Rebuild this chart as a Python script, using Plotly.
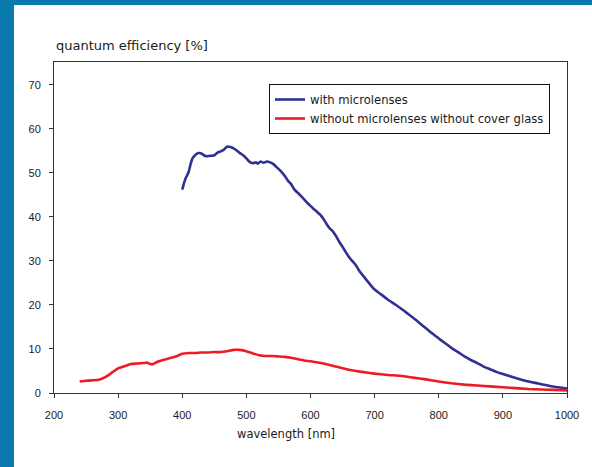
import plotly.graph_objects as go

# ---- data ----
wl_ml = [400, 403, 406, 410, 413, 416, 420, 425, 430, 435, 440, 445, 450, 455, 460, 465, 470, 475, 480,
         485, 490, 495, 500, 505, 510, 515, 518, 522, 527, 532, 537, 542, 548, 555, 560, 565, 570, 575,
         580, 585, 590, 595, 600, 605, 610, 615, 620, 625, 630, 635, 640, 645, 650, 655, 660, 665, 670,
         675, 680, 685, 690, 695, 700, 710, 720, 730, 740, 750, 760, 770, 780, 790, 800, 810, 820, 830,
         840, 850, 860, 870, 880, 890, 900, 920, 940, 960, 980, 1000]
qe_ml = [46.2, 47.8, 49.0, 50.2, 52.0, 53.3, 54.0, 54.5, 54.4, 53.9, 53.8, 53.9, 54.0, 54.6, 54.9, 55.3,
         56.0, 55.9, 55.6, 55.1, 54.5, 54.0, 53.3, 52.5, 52.2, 52.4, 52.1, 52.6, 52.3, 52.6, 52.4, 52.0,
         51.2, 50.2, 49.3, 48.2, 47.4, 46.2, 45.5, 44.8, 44.0, 43.2, 42.5, 41.8, 41.2, 40.5, 39.6, 38.4,
         37.4, 36.7, 35.6, 34.3, 33.2, 32.0, 30.9, 30.0, 29.2, 28.0, 27.0, 26.1, 25.2, 24.3, 23.5, 22.4,
         21.3, 20.3, 19.3, 18.2, 17.1, 15.9, 14.7, 13.5, 12.4, 11.3, 10.2, 9.3, 8.3, 7.5, 6.8, 6.0, 5.4,
         4.8, 4.3, 3.4, 2.6, 2.0, 1.4, 1.0]

wl_nml = [240, 250, 260, 270, 280, 290, 300, 310, 320, 330, 340, 345, 350, 355, 360, 370, 380, 390, 400,
          410, 420, 430, 440, 450, 460, 470, 480, 490, 500, 510, 520, 530, 540, 550, 560, 570, 580, 590,
          600, 620, 640, 660, 680, 700, 720, 740, 760, 780, 800, 820, 840, 860, 880, 900, 920, 940, 960,
          980, 1000]
qe_nml = [2.6, 2.8, 2.9, 3.0, 3.6, 4.6, 5.6, 6.1, 6.6, 6.7, 6.8, 6.9, 6.6, 6.6, 7.0, 7.5, 7.9, 8.3, 8.9,
          9.1, 9.1, 9.2, 9.2, 9.3, 9.3, 9.5, 9.8, 9.8, 9.5, 9.0, 8.6, 8.4, 8.4, 8.3, 8.2, 8.0, 7.7, 7.4,
          7.2, 6.7, 6.0, 5.3, 4.8, 4.4, 4.1, 3.9, 3.5, 3.1, 2.6, 2.2, 1.9, 1.7, 1.5, 1.3, 1.1, 0.9, 0.8,
          0.7, 0.6]

series_names = ["with microlenses", "without microlenses without cover glass"]
x_ticks = [200, 300, 400, 500, 600, 700, 800, 900, 1000]
y_ticks = [0, 10, 20, 30, 40, 50, 60, 70]

# ---- layout geometry (pixels) ----
W, H = 592, 467
L, R, T, B = 54, 25, 62, 74
pw, ph = W - L - R, H - T - B
BAND = "#0878AD"


def px_x(p):
    return (p - L) / pw


def px_y(p):
    return (H - B - p) / ph


fig = go.Figure()
fig.add_trace(go.Scatter(x=wl_ml, y=qe_ml, mode="lines", name=series_names[0],
                         line=dict(color="#2E3192", width=2.6, shape="spline", smoothing=0.4)))
fig.add_trace(go.Scatter(x=wl_nml, y=qe_nml, mode="lines", name=series_names[1],
                         line=dict(color="#ED1C24", width=2.6, shape="spline", smoothing=0.4)))

tickfont = dict(family="Liberation Sans, Arial, sans-serif", size=11, color="#1a1a1a")
fig.update_xaxes(range=[200, 1000], tickvals=x_ticks, ticks="outside", ticklen=4, tickcolor="#333",
                 showline=True, linecolor="#333", linewidth=1, mirror=True, showgrid=False,
                 zeroline=False, tickfont=tickfont, ticklabelstandoff=8)
fig.update_yaxes(range=[0, 75.2], tickvals=y_ticks, ticks="outside", ticklen=4, tickcolor="#333",
                 showline=True, linecolor="#333", linewidth=1, mirror=True, showgrid=False,
                 zeroline=False, tickfont=tickfont, ticklabelstandoff=6)

fig.update_layout(
    width=W, height=H,
    margin=dict(l=L, r=R, t=T, b=B, pad=0),
    paper_bgcolor="white", plot_bgcolor="white",
    showlegend=True,
    legend=dict(x=px_x(269), y=px_y(84), xanchor="left", yanchor="top",
                bgcolor="white", bordercolor="#111", borderwidth=1,
                font=dict(family="DejaVu Sans, sans-serif", size=11.6, color="#1a1a1a"),
                tracegroupgap=0),
    annotations=[
        dict(text="quantum efficiency [%]", xref="paper", yref="paper", x=0, y=px_y(46),
             xanchor="left", yanchor="middle", showarrow=False,
             font=dict(family="DejaVu Sans, sans-serif", size=13, color="#1a1a1a")),
        dict(text="wavelength [nm]", xref="paper", yref="paper", x=px_x(286), y=px_y(434),
             xanchor="center", yanchor="middle", showarrow=False,
             font=dict(family="DejaVu Sans, sans-serif", size=11.5, color="#1a1a1a")),
    ],
    shapes=[
        dict(type="rect", xref="paper", yref="paper", x0=px_x(0), x1=px_x(14), y0=px_y(H), y1=px_y(0),
             fillcolor=BAND, line=dict(width=0), layer="above"),
        dict(type="rect", xref="paper", yref="paper", x0=px_x(0), x1=px_x(W), y0=px_y(5), y1=px_y(0),
             fillcolor=BAND, line=dict(width=0), layer="above"),
    ],
)

fig.write_html("out.html", config={"displayModeBar": False},
               post_script="document.body.style.margin='0';")
